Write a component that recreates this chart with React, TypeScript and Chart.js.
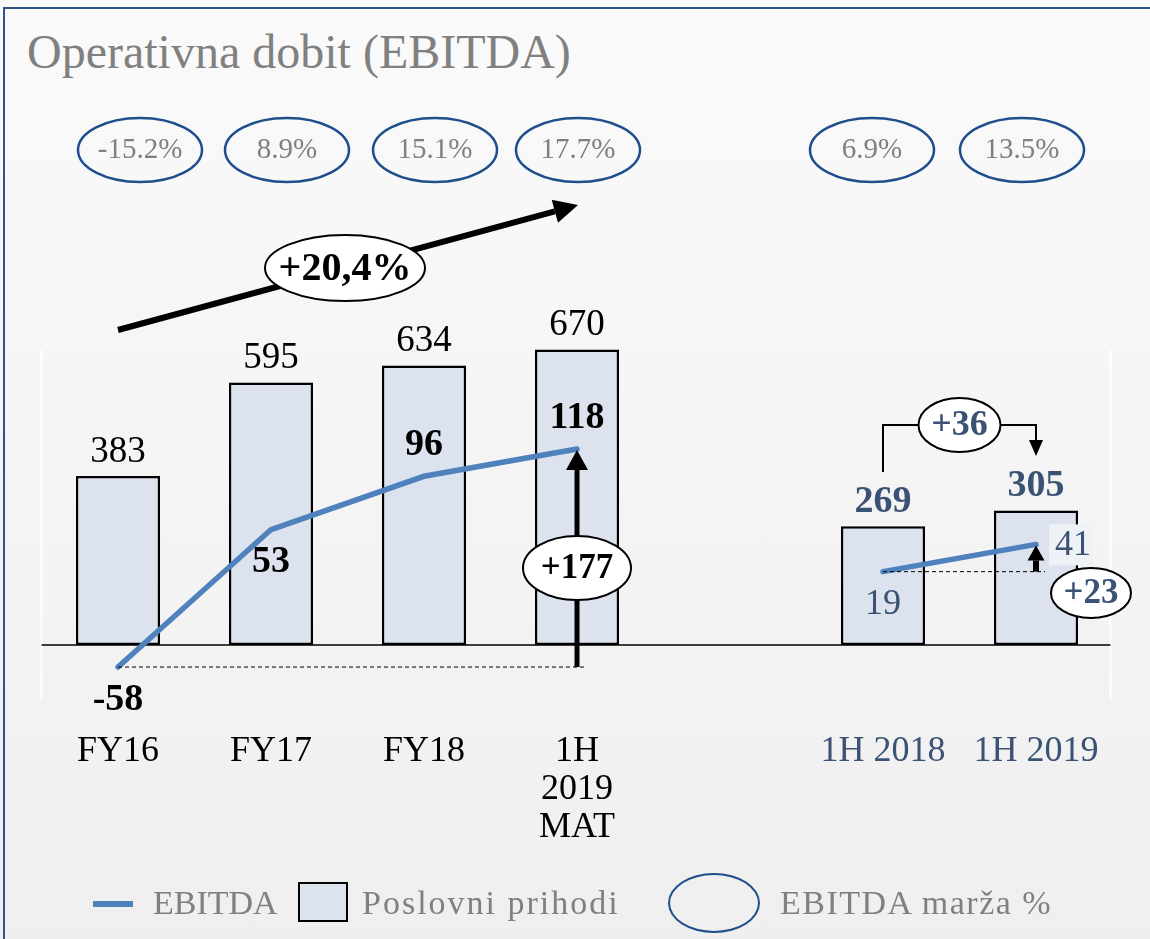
import React, { useEffect, useRef } from "react";
import { Chart, registerables } from "chart.js";

Chart.register(...registerables);

// ---- data ----
const categories: (string | string[])[] = [["FY16"], ["FY17"], ["FY18"], ["1H", "2019", "MAT"], "", ["1H 2018"], ["1H 2019"]];
const revenue: (number | null)[] = [383, 595, 634, 670, null, 269, 305];
const ebitda: (number | null)[] = [-58, 53, 96, 118, null, 19, 41];
const margins: (string | null)[] = ["-15.2%", "8.9%", "15.1%", "17.7%", null, "6.9%", "13.5%"];
const cagrLabel = "+20,4%";
const deltaMat = "+177";
const deltaRevenue1H = "+36";
const deltaEbitda1H = "+23";
const title = "Operativna dobit (EBITDA)";
const legendLine = "EBITDA";
const legendBar = "Poslovni prihodi";
const legendEllipse = "EBITDA marža %";

// ---- styles ----
const FONT = '"Liberation Serif", "Times New Roman", serif';
const BLUE_TXT = "#3b5275";
const GRAY_TXT = "#808080";
const ELLIPSE_BLUE = "#1f4e8c";
const BAR_FILL = "#dce3ee";
const LINE_COLOR = "#4f81bd";
const marginOffsets = [22, 16, 11, 1, 0, -11, -14];
const ebitdaLabelPos = ["below", "below", "above", "above", null, "below", "right"];

function ellipse(ctx: CanvasRenderingContext2D, cx: number, cy: number, rx: number, ry: number, fill: string | null, stroke: string, lw: number) {
  ctx.save();
  ctx.beginPath();
  ctx.ellipse(cx, cy, rx, ry, 0, 0, Math.PI * 2);
  if (fill) {
    ctx.fillStyle = fill;
    ctx.fill();
  }
  ctx.lineWidth = lw;
  ctx.strokeStyle = stroke;
  ctx.stroke();
  ctx.restore();
}

function arrow(ctx: CanvasRenderingContext2D, x1: number, y1: number, x2: number, y2: number, lw: number, headLen: number, headW: number, color = "#000") {
  const ang = Math.atan2(y2 - y1, x2 - x1);
  const bx = x2 - headLen * Math.cos(ang);
  const by = y2 - headLen * Math.sin(ang);
  ctx.save();
  ctx.strokeStyle = color;
  ctx.fillStyle = color;
  ctx.lineWidth = lw;
  ctx.lineCap = "butt";
  ctx.beginPath();
  ctx.moveTo(x1, y1);
  ctx.lineTo(bx, by);
  ctx.stroke();
  ctx.beginPath();
  ctx.moveTo(x2, y2);
  ctx.lineTo(bx + (headW / 2) * Math.sin(ang), by - (headW / 2) * Math.cos(ang));
  ctx.lineTo(bx - (headW / 2) * Math.sin(ang), by + (headW / 2) * Math.cos(ang));
  ctx.closePath();
  ctx.fill();
  ctx.restore();
}

function text(ctx: CanvasRenderingContext2D, s: string, x: number, y: number, font: string, color: string, align: CanvasTextAlign = "center") {
  ctx.save();
  ctx.font = font;
  ctx.fillStyle = color;
  ctx.textAlign = align;
  ctx.textBaseline = "middle";
  ctx.fillText(s, x, y);
  ctx.restore();
}

const backPlugin = {
  id: "backPlugin",
  beforeDatasetsDraw(chart: any) {
    const { ctx, chartArea, scales } = chart;
    const y0 = scales.y.getPixelForValue(0);
    ctx.save();
    ctx.strokeStyle = "#ffffff";
    ctx.lineWidth = 2;
    ctx.beginPath();
    ctx.moveTo(chartArea.left, 350);
    ctx.lineTo(chartArea.left, 700);
    ctx.moveTo(chartArea.right - 2, 350);
    ctx.lineTo(chartArea.right - 2, 700);
    ctx.stroke();
    ctx.strokeStyle = "#000";
    ctx.lineWidth = 1.5;
    ctx.beginPath();
    ctx.moveTo(chartArea.left, y0);
    ctx.lineTo(chartArea.right - 2, y0);
    ctx.stroke();
    ctx.restore();
  },
};

const annotPlugin = {
  id: "annotPlugin",
  afterDatasetsDraw(chart: any) {
    const { ctx, scales } = chart;
    const x = scales.x;
    const y = scales.y;
    const y2 = scales.y2;
    const cx = (i: number) => x.getPixelForValue(i);

    // margin ellipses
    margins.forEach((m, i) => {
      if (!m) return;
      const ex = cx(i) + marginOffsets[i];
      ellipse(ctx, ex, 150, 62, 32, null, ELLIPSE_BLUE, 2.5);
      text(ctx, m, ex, 150, `29px ${FONT}`, GRAY_TXT);
    });

    // bar value labels
    revenue.forEach((v, i) => {
      if (v == null) return;
      const py = y.getPixelForValue(v) - 24;
      if (i < 4) text(ctx, String(v), cx(i), py, `37px ${FONT}`, "#000");
      else text(ctx, String(v), cx(i), py, `bold 38px ${FONT}`, BLUE_TXT);
    });

    // dashed reference lines
    ctx.save();
    ctx.setLineDash([4, 3]);
    ctx.strokeStyle = "#000";
    ctx.lineWidth = 1;
    const yNeg = y2.getPixelForValue(ebitda[0] as number);
    ctx.beginPath();
    ctx.moveTo(cx(0), yNeg);
    ctx.lineTo(cx(3) + 9, yNeg);
    const y19 = y2.getPixelForValue(ebitda[5] as number);
    ctx.moveTo(cx(5), y19);
    ctx.lineTo(cx(6) + 9, y19);
    ctx.stroke();
    ctx.restore();

    // vertical arrow +177
    const y118 = y2.getPixelForValue(ebitda[3] as number);
    arrow(ctx, cx(3), yNeg, cx(3), y118 + 1, 5, 20, 22);
    ellipse(ctx, cx(3), 568, 54, 32, "#ffffff", "#000", 2);
    text(ctx, deltaMat, cx(3), 569, `bold 35px ${FONT}`, "#000");

    // ebitda labels
    ebitda.forEach((v, i) => {
      if (v == null) return;
      const px = cx(i);
      const py = y2.getPixelForValue(v);
      const pos = ebitdaLabelPos[i];
      const first = i < 4;
      const font = first ? `bold 38px ${FONT}` : `36px ${FONT}`;
      const col = first ? "#000" : BLUE_TXT;
      if (pos === "below") text(ctx, String(v), px, py + 33, font, col);
      else if (pos === "above") text(ctx, String(v), px, py - 31, font, col);
      else if (pos === "right") {
        ctx.save();
        ctx.fillStyle = "#eef1f6";
        ctx.fillRect(px + 13, py - 20, 44, 41);
        ctx.restore();
        text(ctx, String(v), px + 37, py + 1, font, col);
      }
    });

    // small arrow +23
    const y41 = y2.getPixelForValue(ebitda[6] as number);
    arrow(ctx, cx(6), y19, cx(6), y41 + 1, 6, 15, 17);
    ellipse(ctx, cx(6) + 55, 593, 40, 25, "#ffffff", "#000", 2);
    text(ctx, deltaEbitda1H, cx(6) + 55, 594, `bold 35px ${FONT}`, BLUE_TXT);

    // bracket +36
    ctx.save();
    ctx.strokeStyle = "#000";
    ctx.lineWidth = 2;
    ctx.beginPath();
    ctx.moveTo(cx(5), 472);
    ctx.lineTo(cx(5), 425);
    ctx.lineTo(cx(6), 425);
    ctx.lineTo(cx(6), 441);
    ctx.stroke();
    ctx.fillStyle = "#000";
    ctx.beginPath();
    ctx.moveTo(cx(6) - 7, 440);
    ctx.lineTo(cx(6) + 7, 440);
    ctx.lineTo(cx(6), 456);
    ctx.closePath();
    ctx.fill();
    ctx.restore();
    const bx = (cx(5) + cx(6)) / 2;
    ellipse(ctx, bx, 425, 41, 27, "#ffffff", "#000", 2);
    text(ctx, deltaRevenue1H, bx, 426, `bold 36px ${FONT}`, BLUE_TXT);

    // CAGR arrow
    arrow(ctx, cx(0), 330, cx(3) + 1, 205, 6, 24, 24);
    ellipse(ctx, 345, 268, 80, 33, "#ffffff", "#000", 2);
    text(ctx, cagrLabel, 345, 270, `bold 40px ${FONT}`, "#000");
  },
};

export default function App() {
  const ref = useRef<HTMLCanvasElement | null>(null);

  useEffect(() => {
    if (!ref.current) return;
    const chart = new Chart(ref.current, {
      type: "bar",
      data: {
        labels: categories as any,
        datasets: [
          {
            type: "line",
            label: legendLine,
            data: ebitda,
            yAxisID: "y2",
            borderColor: LINE_COLOR,
            backgroundColor: LINE_COLOR,
            borderWidth: 5.5,
            pointRadius: 0,
            tension: 0,
            spanGaps: false,
            borderCapStyle: "round",
            order: 0,
          } as any,
          {
            type: "bar",
            label: legendBar,
            data: revenue,
            yAxisID: "y",
            backgroundColor: BAR_FILL,
            borderColor: "#000",
            borderWidth: 2.5,
            borderSkipped: false,
            categoryPercentage: 1,
            barPercentage: 0.55,
            order: 1,
          } as any,
        ],
      },
      options: {
        animation: false,
        responsive: false,
        devicePixelRatio: 1,
        layout: { padding: { left: 41.5, right: 37.5, top: 100, bottom: 84 } },
        plugins: { legend: { display: false }, tooltip: { enabled: false } },
        scales: {
          x: {
            grid: { display: false, drawTicks: false },
            border: { display: false },
            ticks: {
              padding: 8,
              maxRotation: 0,
              autoSkip: false,
              font: { family: FONT, size: 36, lineHeight: 38 / 36 },
              color: (c: any) => (c.index >= 5 ? BLUE_TXT : "#000"),
            },
          },
          y: { display: false, min: -181.4, max: 1235.8 },
          y2: { display: false, position: "right", min: -104.8, max: 399.8 },
        },
      },
      plugins: [backPlugin, annotPlugin],
    });
    return () => chart.destroy();
  }, []);

  const legendText: React.CSSProperties = {
    position: "absolute",
    top: 880,
    fontFamily: FONT,
    fontSize: 34,
    lineHeight: "46px",
    color: GRAY_TXT,
    whiteSpace: "nowrap",
  };

  return (
    <div
      style={{
        position: "absolute",
        left: 0,
        top: 0,
        width: 1150,
        height: 939,
        overflow: "hidden",
        background: "linear-gradient(#fafafa, #efefef)",
      }}
    >
      <div
        style={{
          position: "absolute",
          left: 3,
          top: 7,
          width: 1160,
          height: 960,
          borderTop: "2px solid #2e5486",
          borderLeft: "2px solid #2e5486",
        }}
      />
      <div
        style={{
          position: "absolute",
          left: 27,
          top: 28,
          fontFamily: FONT,
          fontSize: 48,
          lineHeight: "48px",
          color: GRAY_TXT,
          whiteSpace: "nowrap",
        }}
      >
        {title}
      </div>
      <canvas ref={ref} width={1150} height={939} style={{ position: "absolute", left: 0, top: 0, width: 1150, height: 939 }} />
      <div style={{ position: "absolute", left: 93, top: 901, width: 40, height: 6, background: LINE_COLOR }} />
      <div style={{ ...legendText, left: 153 }}>{legendLine}</div>
      <div style={{ position: "absolute", left: 298, top: 882, width: 46, height: 36, background: BAR_FILL, border: "2px solid #000" }} />
      <div style={{ ...legendText, left: 362, letterSpacing: "2px" }}>{legendBar}</div>
      <div style={{ position: "absolute", left: 668, top: 873, width: 88, height: 56, borderRadius: "50%", border: `2.5px solid ${ELLIPSE_BLUE}` }} />
      <div style={{ ...legendText, left: 780, letterSpacing: "1.5px" }}>{legendEllipse}</div>
    </div>
  );
}
